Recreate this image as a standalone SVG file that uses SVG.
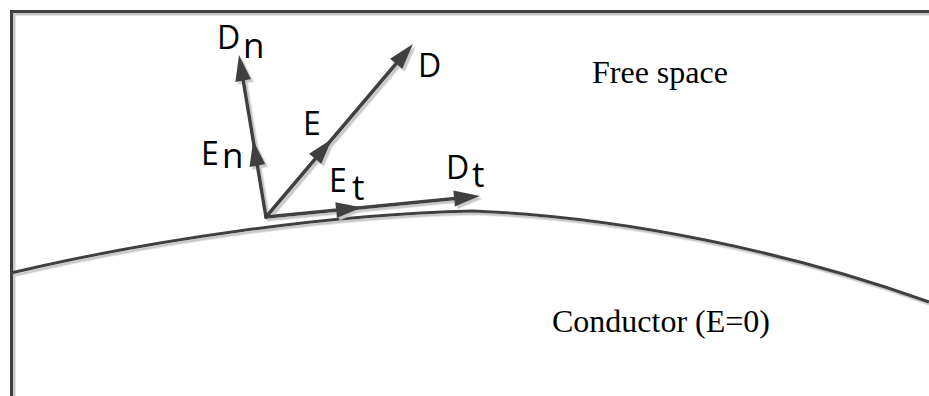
<svg xmlns="http://www.w3.org/2000/svg" xmlns:xlink="http://www.w3.org/1999/xlink" width="929" height="396" viewBox="0 0 929 396">
  <style>
    .ln { stroke: #404040; stroke-width: 3; fill: none; stroke-linecap: butt; }
    .vec { stroke: #404040; stroke-width: 3.5; fill: none; stroke-linecap: round; stroke-linejoin: round; }
    .head { fill: #404040; stroke: none; }
    .lbl { font-family: "Open Sans", "DejaVu Sans", sans-serif; font-size: 32px; fill: #000; }
    .sub { font-size: 35px; }
    .txt { font-family: "Liberation Serif", "Times New Roman", serif; font-size: 32px; fill: #000; }
  </style>
  <defs>
    <filter id="sh" x="-10%" y="-10%" width="130%" height="130%">
      <feDropShadow dx="2.5" dy="2.5" stdDeviation="0.6" flood-color="#c8c8c8" flood-opacity="1"/>
    </filter>
    <path id="ah" d="M0,0 L-26,-8 L-26,8 Z"/>
  </defs>
  <rect width="929" height="396" fill="#fff"/>

  <g id="frame" filter="url(#sh)">
    <path class="ln" d="M11.5,396 L11.5,11.5 L929,11.5"/>
  </g>

  <g id="surface" filter="url(#sh)">
    <path class="ln" d="M11,273 C150,240 330,214 473,211 C623,217 790,252 929,302"/>
  </g>

  <g id="connectors" filter="url(#sh)">
    <g id="normal">
      <path class="vec" d="M266,217 L241,67"/>
      <use href="#ah" class="head" transform="translate(239,55) rotate(-99.46)"/>
      <use href="#ah" class="head" transform="translate(253.2,140) rotate(-99.46)"/>
    </g>
    <g id="field">
      <path class="vec" d="M266,217 L406,52"/>
      <use href="#ah" class="head" transform="translate(413,44) rotate(-49.64)"/>
      <use href="#ah" class="head" transform="translate(332,139) rotate(-49.64)"/>
    </g>
    <g id="tangent">
      <path class="vec" d="M266,217 L468,197.2"/>
      <use href="#ah" class="head" transform="translate(480,196) rotate(-5.6)"/>
      <use href="#ah" class="head" transform="translate(362,207.6) rotate(-5.6)"/>
    </g>
  </g>

  <g id="labels">
    <g id="label-Dn"><text class="lbl" x="217" y="49">D</text><text class="lbl sub" x="243" y="58">n</text></g>
    <g id="label-D"><text class="lbl" x="418" y="77">D</text></g>
    <g id="label-E"><text class="lbl" x="303" y="135">E</text></g>
    <g id="label-En"><text class="lbl" x="201" y="165">E</text><text class="lbl sub" x="222" y="168">n</text></g>
    <g id="label-Et"><text class="lbl" x="329" y="192">E</text><text class="lbl sub" x="352" y="200">t</text></g>
    <g id="label-Dt"><text class="lbl" x="446" y="179">D</text><text class="lbl sub" x="472" y="187">t</text></g>
  </g>

  <g id="region-free"><text class="txt" x="592" y="83">Free space</text></g>
  <g id="region-conductor"><text class="txt" x="552" y="332">Conductor (E=0)</text></g>
</svg>
